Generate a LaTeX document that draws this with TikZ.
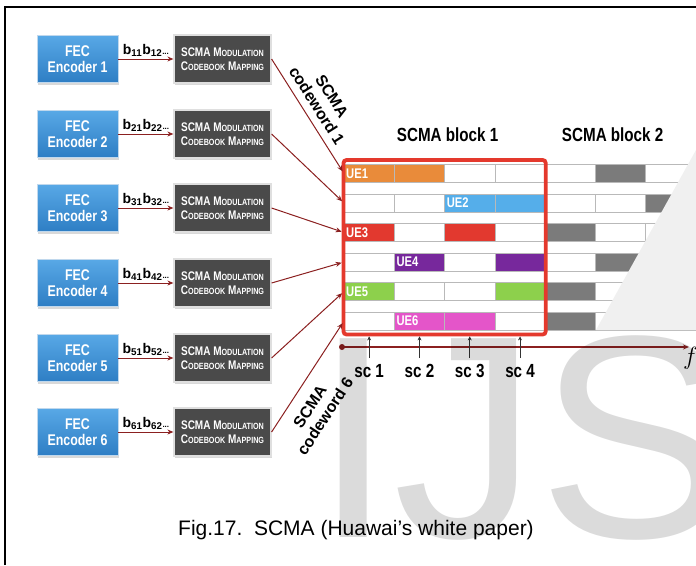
\documentclass[tikz,border=0pt]{standalone}
\usepackage{fontspec}
\setmainfont{Liberation Sans}
\newfontfamily\condsf[FakeStretch=0.8]{Liberation Sans}
\usetikzlibrary{positioning, arrows.meta, fit, shadows}

\definecolor{fectop}{HTML}{58A8E6}
\definecolor{fecbot}{HTML}{2E7EC4}
\definecolor{mapgray}{HTML}{4A4A4A}
\definecolor{arrowred}{HTML}{8B2020}
\definecolor{framered}{HTML}{E4392D}
\definecolor{ueorange}{HTML}{E98B3A}
\definecolor{ueblue}{HTML}{55AEEA}
\definecolor{uered}{HTML}{E2392F}
\definecolor{uepurple}{HTML}{77289C}
\definecolor{uegreen}{HTML}{8DD04C}
\definecolor{uemagenta}{HTML}{E455C9}
\definecolor{blkgray}{HTML}{7B7B7B}
\definecolor{wedgegray}{HTML}{F0F0F0}

% fake small caps for the mapping boxes
\newcommand\fakesc[2]{#1{\fontsize{9}{10}\selectfont #2}}

\begin{document}
\begin{tikzpicture}[
    x=1pt, y=-1pt,
    fec_block/.style={rectangle, draw=white!70!fecbot, line width=0.8pt, top color=fectop, bottom color=fecbot, text=white, font=\condsf\bfseries\fontsize{15.5}{16.5}\selectfont, align=center, minimum width=81pt, minimum height=47pt, inner sep=1pt, drop shadow={opacity=0.3, shadow xshift=1pt, shadow yshift=-2pt}},
    map_block/.style={rectangle, draw=gray!25, line width=1.2pt, fill=mapgray, text=white, font=\condsf\bfseries\fontsize{12.5}{14}\selectfont, align=center, minimum width=97pt, minimum height=48pt, inner sep=1pt, drop shadow={opacity=0.3, shadow xshift=1pt, shadow yshift=-2pt}},
    arrow/.style={draw=arrowred, line width=1pt, -{Stealth[length=6pt, width=5pt]}},
    bits/.style={above=1pt, font=\bfseries\fontsize{14}{14}\selectfont, inner sep=1pt},
    codeword/.style={font=\bfseries\fontsize{16}{18}\selectfont, align=center, sloped, inner sep=1pt},
    cell/.style={rectangle, draw=gray!55, line width=0.8pt, fill=white, minimum width=50.3pt, minimum height=18pt, inner sep=0pt, outer sep=0pt},
    ue_label/.style={anchor=west, text=white, font=\condsf\bfseries\fontsize{14}{14}\selectfont, inner sep=2pt},
    block_frame/.style={draw=framered, line width=3.8pt, rounded corners=3pt, inner xsep=0.5pt, inner ysep=4.5pt},
    block_title/.style={font=\condsf\bfseries\fontsize{19}{19}\selectfont, inner sep=1pt},
    sc_label/.style={font=\condsf\bfseries\fontsize{19}{19}\selectfont, inner sep=1pt},
    sc_arrow/.style={draw=black!80, line width=0.7pt, -{Stealth[length=4pt, width=4pt]}},
    watermark/.style={text=black, text opacity=0.14, inner sep=0pt, font=\fontsize{289}{289}\selectfont}
]
    \useasboundingbox (0,0) rectangle (696,565);

    % --- page frame ---
    \draw[line width=2pt] (5,565) -- (5,7) -- (696,7);

    % --- encoders and codebook mapping ---
    \foreach \i/\y in {1/59, 2/134, 3/208, 4/283, 5/358, 6/432} {
        \node[fec_block] (fec\i) at (77.5,\y) {FEC\\Encoder \i};
        \node[map_block, right=55pt of fec\i] (map\i) {\fakesc{SCMA M}{ODULATION}\\\fakesc{C}{ODEBOOK} \fakesc{M}{APPING}};
        \draw[arrow] (fec\i) -- node[bits] (bits\i) {b\textsubscript{\i1}b\textsubscript{\i2}{\fontsize{8}{8}\selectfont...}} (map\i);
    }

    % --- resource grid: block 1 and block 2 ---
    \foreach \r/\yy in {1/173.5, 2/203, 3/232.5, 4/262, 5/291.5, 6/321}
        \foreach \c in {1,...,7}
            \node[cell] (cell-\r-\c) at ({344+50.3*(\c-0.5)},\yy) {};

    % coloured sub-carriers of each UE
    \foreach \r/\c/\col in {1/1/ueorange, 1/2/ueorange, 2/3/ueblue, 2/4/ueblue, 3/1/uered, 3/3/uered,
                            4/2/uepurple, 4/4/uepurple, 5/1/uegreen, 5/4/uegreen, 6/2/uemagenta, 6/3/uemagenta,
                            1/6/blkgray, 2/7/blkgray, 3/5/blkgray, 4/6/blkgray, 5/5/blkgray, 6/5/blkgray}
        \draw[draw=gray!55, line width=0.8pt, fill=\col] (cell-\r-\c.north west) rectangle (cell-\r-\c.south east);

    \foreach \r/\c in {1/1, 2/3, 3/1, 4/2, 5/1, 6/2}
        \node[ue_label] (ue\r) at (cell-\r-\c.west) {UE\r};

    \node[block_frame, fit=(cell-1-1) (cell-6-4)] (blk1) {};
    \node[block_title, above=15pt of blk1, xshift=3pt] (title1) {SCMA block 1};
    \node[block_title, xshift=-8pt] (title2) at (cell-1-6 |- title1) {SCMA block 2};

    % --- codewords into the block ---
    \draw[arrow, shorten >=2.5pt] (map1.east) -- node[codeword, pos=0.47, above=6pt] (cw1) {SCMA\\codeword 1} (cell-1-1.west);
    \foreach \i in {2,...,5}
        \draw[arrow, shorten >=2.5pt] (map\i.east) -- (cell-\i-1.west);
    \draw[arrow, shorten >=2.5pt] (map6.east) -- node[codeword, pos=0.32, below=11pt] (cw6) {SCMA\\codeword 6} (cell-6-1.west);

    % --- frequency axis and sub-carriers ---
    \node[circle, fill=arrowred, inner sep=0pt, minimum size=6pt] (origin) at (342,347) {};
    \coordinate (axisend) at (689,347);
    \draw[arrow, line width=1.2pt] (origin.center) -- (axisend);
    \node[anchor=west, inner sep=0pt, font=\fontsize{26}{26}\selectfont] (flabel) at (683,358) {$f$};
    \foreach \c in {1,...,4} {
        \node[sc_label] (sc\c) at (cell-6-\c |- 0,371) {sc \c};
        \draw[sc_arrow, shorten <=5pt] (sc\c.north) -- (sc\c.north |- blk1.south);
    }

    % --- watermark ---
    \fill[wedgegray] (696,150) -- (596,330) -- (696,330) -- cycle;
    \node[watermark, anchor=base west] (wm) at (313,537) {IJS};

    % --- caption ---
    \node[font=\fontsize{21}{24}\selectfont, inner sep=0pt] (caption) at (356,530) {Fig.17.\ \ SCMA (Huawai’s white paper)};
\end{tikzpicture}
\end{document}
